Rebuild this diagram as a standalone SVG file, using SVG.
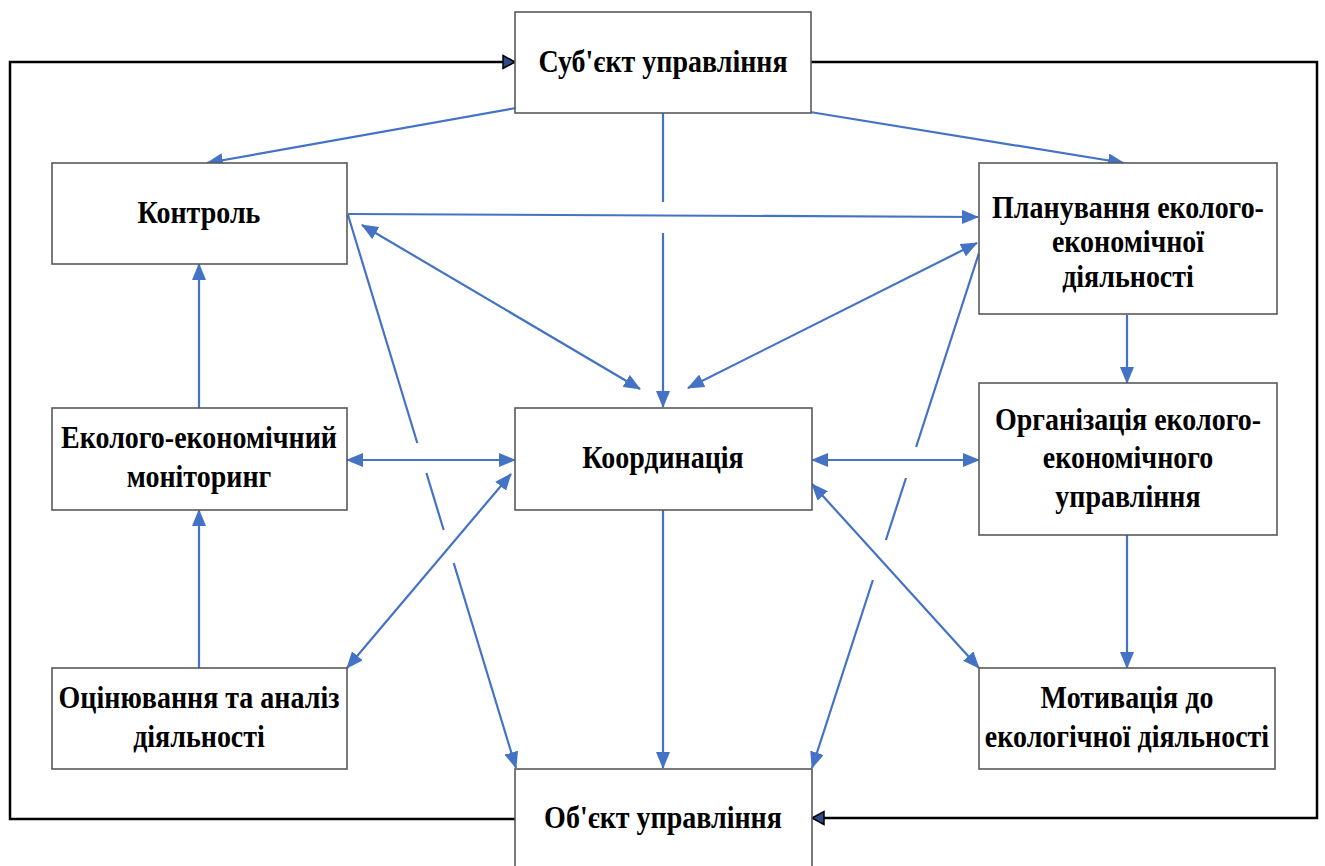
<svg xmlns="http://www.w3.org/2000/svg" width="1325" height="866" viewBox="0 0 1325 866">
<style>
.box{fill:#fff;stroke:#595959;stroke-width:1.6}
.t{font-family:"Liberation Serif","Times New Roman",serif;font-weight:bold;font-size:28px;fill:#000;text-anchor:middle}
.c{fill:none;stroke:#4472C4;stroke-width:2.2}
.k{fill:none;stroke:#000;stroke-width:2.5}
</style>
<defs>
<marker id="a" markerUnits="userSpaceOnUse" markerWidth="18" markerHeight="14" refX="16" refY="7" orient="auto-start-reverse" viewBox="0 0 18 14">
<path d="M0,0 L17,7 L0,14 z" fill="#4472C4"/>
</marker>
<marker id="b" markerUnits="userSpaceOnUse" markerWidth="16" markerHeight="16" refX="14" refY="8" orient="auto" viewBox="0 0 16 16">
<path d="M2,1.5 L14,8 L2,14.5 z" fill="#2E4A8A" stroke="#000" stroke-width="1.5"/>
</marker>
</defs>
<rect width="1325" height="866" fill="#fff"/>
<g id="connectors">
<path class="k" d="M515,819 L10,819 L10,62 L515,62" marker-end="url(#b)"/>
<path class="k" d="M810,62 L1317,62 L1317,818 L812,818" marker-end="url(#b)"/>
<path class="c" d="M516,108 L207,163" marker-end="url(#a)"/>
<path class="c" d="M810,112 L1124,163" marker-end="url(#a)"/>
<path class="c" d="M663,113 L663,202 M663,233 L663,407" marker-end="url(#a)"/>
<path class="c" d="M348,214 L978,217" marker-end="url(#a)"/>
<path class="c" d="M362,225 L640,389" marker-start="url(#a)" marker-end="url(#a)"/>
<path class="c" d="M688,388 L977,243" marker-start="url(#a)" marker-end="url(#a)"/>
<path class="c" d="M348,215 L417.3,443 M426.4,473 L443.7,530 M453.7,563 L516,768" marker-end="url(#a)"/>
<path class="c" d="M979,253 L916.1,447 M906,478 L885.9,540 M872.9,580 L812,768" marker-end="url(#a)"/>
<path class="c" d="M199,408 L199,264" marker-end="url(#a)"/>
<path class="c" d="M199,668 L199,510" marker-end="url(#a)"/>
<path class="c" d="M347,460 L515,460" marker-start="url(#a)" marker-end="url(#a)"/>
<path class="c" d="M347,668 L511,474" marker-start="url(#a)" marker-end="url(#a)"/>
<path class="c" d="M812,460 L979,460" marker-start="url(#a)" marker-end="url(#a)"/>
<path class="c" d="M812,484 L979,668" marker-start="url(#a)" marker-end="url(#a)"/>
<path class="c" d="M1127,315 L1127,383" marker-end="url(#a)"/>
<path class="c" d="M1127,535 L1127,668" marker-end="url(#a)"/>
<path class="c" d="M663,510 L663,768" marker-end="url(#a)"/>
</g>
<g id="subject">
<rect class="box" x="515" y="12" width="296" height="101"/>
<text class="t" transform="translate(663,72) scale(1,1.15)">Суб'єкт управління</text>
</g>
<g id="control">
<rect class="box" x="52" y="163" width="295" height="101"/>
<text class="t" transform="translate(199,223) scale(1,1.15)">Контроль</text>
</g>
<g id="planning">
<rect class="box" x="979" y="163" width="298" height="151"/>
<text class="t" transform="translate(1128,218) scale(1,1.15)">Планування еколого-</text>
<text class="t" transform="translate(1128,252) scale(1,1.15)">економічної</text>
<text class="t" transform="translate(1128,287) scale(1,1.15)">діяльності</text>
</g>
<g id="monitoring">
<rect class="box" x="52" y="408" width="295" height="102"/>
<text class="t" transform="translate(199,448) scale(1,1.15)">Еколого-економічний</text>
<text class="t" transform="translate(199,487) scale(1,1.15)">моніторинг</text>
</g>
<g id="coordination">
<rect class="box" x="515" y="408" width="297" height="102"/>
<text class="t" transform="translate(663,468) scale(1,1.15)">Координація</text>
</g>
<g id="organization">
<rect class="box" x="979" y="383" width="298" height="152"/>
<text class="t" transform="translate(1128,430) scale(1,1.15)">Організація еколого-</text>
<text class="t" transform="translate(1128,468) scale(1,1.15)">економічного</text>
<text class="t" transform="translate(1128,507) scale(1,1.15)">управління</text>
</g>
<g id="evaluation">
<rect class="box" x="52" y="668" width="295" height="101"/>
<text class="t" transform="translate(199,708) scale(1,1.15)">Оцінювання та аналіз</text>
<text class="t" transform="translate(199,747) scale(1,1.15)">діяльності</text>
</g>
<g id="motivation">
<rect class="box" x="979" y="668" width="296" height="101"/>
<text class="t" transform="translate(1127,708) scale(1,1.15)">Мотивація до</text>
<text class="t" transform="translate(1127,747) scale(1,1.15)">екологічної діяльності</text>
</g>
<g id="object">
<rect class="box" x="515" y="769" width="297" height="110"/>
<text class="t" transform="translate(663,828) scale(1,1.15)">Об'єкт управління</text>
</g>
</svg>
